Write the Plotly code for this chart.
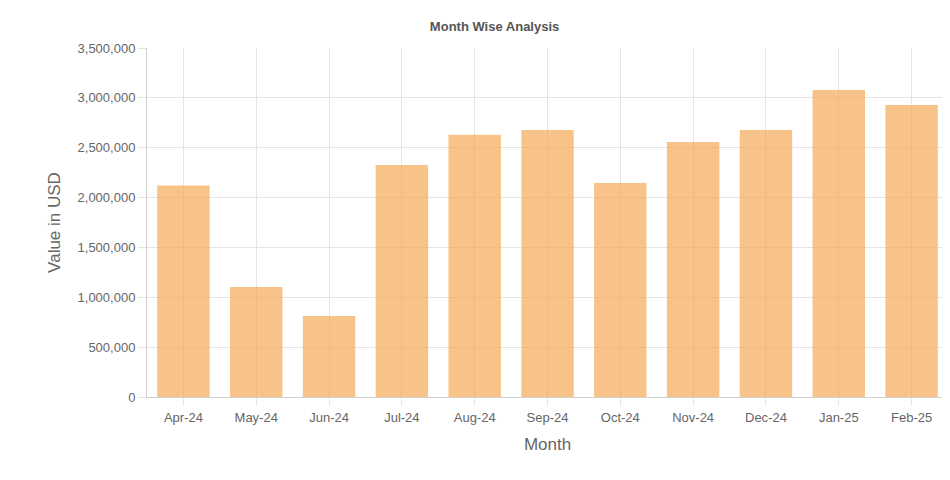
import plotly.graph_objects as go

months = ["Apr-24","May-24","Jun-24","Jul-24","Aug-24","Sep-24","Oct-24","Nov-24","Dec-24","Jan-25","Feb-25"]
values = [2120000,1103000,812000,2327000,2630000,2678000,2146000,2557000,2678000,3079000,2928000]

fig = go.Figure(go.Bar(x=months, y=values, marker=dict(color="rgba(245,166,80,0.68)", line=dict(width=0))))
fig.update_layout(
    width=943, height=472,
    margin=dict(l=139, r=3, t=40, b=83),
    paper_bgcolor="white", plot_bgcolor="white",
    bargap=0.28,
    font=dict(family="Arial, Liberation Sans", color="#666"),
    title=dict(text="<b>Month Wise Analysis</b>", x=0.516, xanchor="center", y=0.96, yanchor="middle",
               font=dict(size=13, color="#555")),
    showlegend=False,
)
fig.update_xaxes(title=dict(text="Month", font=dict(size=17, color="#666"), standoff=14),
                 showgrid=True, gridcolor="#e5e5e5", showline=True, linecolor="#d0d0d0", mirror=False,
                 ticks="outside", ticklen=8, tickcolor="#e5e5e5", tickfont=dict(size=13, color="#666"))
fig.update_yaxes(title=dict(text="Value in USD", font=dict(size=17, color="#666"), standoff=12),
                 range=[0,3500000], dtick=500000, tickformat=",d",
                 showgrid=True, gridcolor="#e5e5e5", zeroline=False, showline=True, linecolor="#d0d0d0",
                 ticks="outside", ticklen=8, tickcolor="#e5e5e5", tickfont=dict(size=13, color="#666"))
fig.write_html("out.html")
